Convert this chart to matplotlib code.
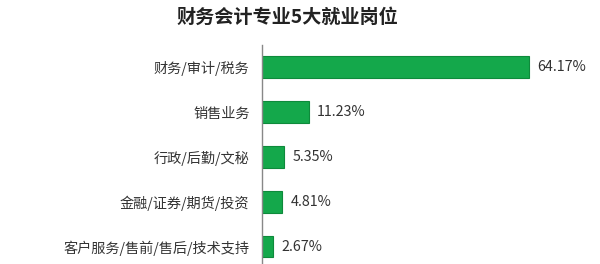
import matplotlib
matplotlib.use("Agg")
import matplotlib.pyplot as plt

plt.rcParams['font.family'] = ['Noto Sans CJK SC', 'DejaVu Sans']

jobs = ["财务/审计/税务", "销售业务", "行政/后勤/文秘", "金融/证券/期货/投资", "客户服务/售前/售后/技术支持"]
shares = [64.17, 11.23, 5.35, 4.81, 2.67]
labels = ["64.17%", "11.23%", "5.35%", "4.81%", "2.67%"]

fig = plt.figure(figsize=(6, 2.64), dpi=100)
ax = fig.add_axes([262 / 600, 0, 338 / 600, (264 - 45) / 264])

pos = list(range(len(jobs)))
ax.barh(pos, shares, height=0.47, color="#14a84b", edgecolor="#0e8a3b", linewidth=0.8)

for p, v, t in zip(pos, shares, labels):
    ax.text(v + 2.0, p, t, va="center", ha="left", fontsize=10.3, color="#333333")

ax.set_xlim(0, 81.2)
ax.set_ylim(4.38, -0.49)
ax.set_yticks(pos)
ax.set_yticklabels(jobs, fontsize=10.2, color="#333333")
ax.tick_params(axis="y", length=0, pad=9)
ax.set_xticks([])
for s in ["top", "right", "bottom"]:
    ax.spines[s].set_visible(False)
ax.spines["left"].set_color("#888888")
ax.spines["left"].set_linewidth(1)

fig.text(287 / 600, 1 - 17 / 264, "财务会计专业5大就业岗位", ha="center", va="center",
         fontsize=13.8, fontweight="bold", color="#222222")

fig.savefig("out.png", dpi=100)
